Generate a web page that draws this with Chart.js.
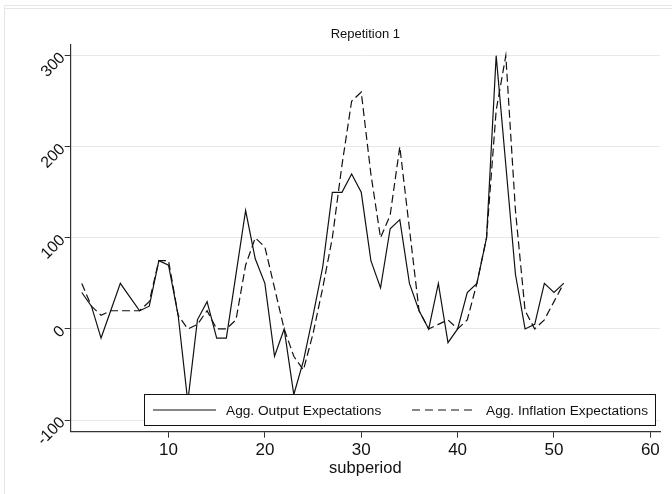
<!DOCTYPE html>
<html>
<head>
<meta charset="utf-8">
<script src="https://cdn.jsdelivr.net/npm/chart.js@4"></script>
<style>
html,body{margin:0;padding:0;background:#fff;}
#wrap{width:672px;height:494px;position:relative;}
</style>
</head>
<body>
<div id="wrap"><canvas id="c" width="672" height="494"></canvas></div>
<script>
const subperiod = [1,2,3,4,5,6,7,8,9,10,11,12,13,14,15,16,17,18,19,20,21,22,23,24,25,26,27,28,29,30,31,32,33,34,35,36,37,38,39,40,41,42,43,44,45,46,47,48,49,50,51];
const outputExp = [40,25,-10,20,50,35,20,25,75,70,15,-80,10,30,-10,-10,60,130,77,50,-30,0,-72,-35,15,68,150,150,170,150,75,45,110,120,50,20,0,50,-15,0,40,50,100,300,180,60,0,5,50,40,50];
const inflationExp = [50,25,15,20,20,20,20,30,75,75,15,0,5,20,0,0,10,70,100,90,45,0,-30,-45,-5,45,100,180,250,260,170,100,125,200,110,20,0,5,10,0,10,50,100,240,300,130,20,0,10,30,50];
const xTicks = [10,20,30,40,50,60];
const yTicks = [-100,0,100,200,300];
const titleText = 'Repetition 1';
const xTitle = 'subperiod';
const seriesNames = ['Agg. Output Expectations','Agg. Inflation Expectations'];

const FONT = "'Liberation Sans', Arial, sans-serif";

const framePlugin = {
  id:'frame',
  beforeDraw(chart){
    const ctx = chart.ctx;
    ctx.save();
    ctx.fillStyle='#fff';
    ctx.fillRect(0,0,chart.width,chart.height);
    ctx.strokeStyle='#e6e6e6';
    ctx.lineWidth=1;
    ctx.beginPath();
    ctx.moveTo(4.5,chart.height); ctx.lineTo(4.5,5.5); ctx.lineTo(chart.width,5.5);
    ctx.moveTo(4.5,8.5); ctx.lineTo(chart.width,8.5);
    ctx.stroke();
    ctx.restore();
  }
};

const legendPlugin = {
  id:'insideLegend',
  afterDatasetsDraw(chart){
    const ctx = chart.ctx;
    const x0=144.5, y0=394.5, w=511, h=31;
    ctx.save();
    ctx.fillStyle='#fff';
    ctx.fillRect(x0,y0,w,h);
    ctx.strokeStyle='#111';
    ctx.lineWidth=1;
    ctx.strokeRect(x0,y0,w,h);
    const cy = y0 + h/2;
    const items = [
      {x1:153,x2:216,tx:226,dash:[]},
      {x1:412,x2:477,tx:486,dash:[8,5]}
    ];
    ctx.font = "13.7px " + FONT;
    ctx.textBaseline='middle';
    ctx.textAlign='left';
    chart.data.datasets.forEach((ds,i)=>{
      const it = items[i];
      ctx.setLineDash(it.dash);
      ctx.lineWidth=1.2;
      ctx.strokeStyle='#111';
      ctx.beginPath(); ctx.moveTo(it.x1,cy); ctx.lineTo(it.x2,cy); ctx.stroke();
      ctx.setLineDash([]);
      ctx.fillStyle='#111';
      ctx.fillText(ds.label, it.tx, cy+1);
    });
    ctx.restore();
  }
};

new Chart(document.getElementById('c'), {
  type:'line',
  data:{
    datasets:[
      {label:seriesNames[0], data:subperiod.map((s,i)=>({x:s,y:outputExp[i]})), borderColor:'#111', borderWidth:1.2, pointRadius:0, tension:0, fill:false},
      {label:seriesNames[1], data:subperiod.map((s,i)=>({x:s,y:inflationExp[i]})), borderColor:'#111', borderWidth:1.2, borderDash:[8,4], pointRadius:0, tension:0, fill:false}
    ]
  },
  plugins:[framePlugin, legendPlugin],
  options:{
    responsive:false,
    animation:false,
    devicePixelRatio:1,
    layout:{padding:{left:0,right:12,top:0,bottom:0}, autoPadding:false},
    plugins:{
      legend:{display:false},
      tooltip:{enabled:false},
      title:{display:true, fullSize:false, text:titleText, color:'#111', font:{family:FONT, size:13, weight:'normal'}, padding:{top:27,bottom:2.4}}
    },
    scales:{
      x:{
        type:'linear', min:-0.15, max:61,
        afterBuildTicks(s){ s.ticks = xTicks.map(v=>({value:v})); },
        afterFit(s){ s.height = 62.3; },
        grid:{drawOnChartArea:false, drawTicks:true, tickLength:6, tickColor:'#333', tickWidth:1},
        border:{display:true, color:'#333', width:1.2},
        ticks:{color:'#111', font:{family:FONT, size:17}, padding:2, autoSkip:false, maxRotation:0, minRotation:0},
        title:{display:true, text:xTitle, color:'#111', font:{family:FONT, size:16.5}, padding:{top:0,bottom:16}}
      },
      y:{
        type:'linear', min:-112.8, max:311.7,
        afterBuildTicks(s){ s.ticks = yTicks.map(v=>({value:v})); },
        afterFit(s){ s.width = 70.7; },
        grid:{color:'#e8e8e8', lineWidth:1, drawTicks:true, tickLength:6, tickColor:'#333'},
        border:{display:true, color:'#333', width:1.2},
        ticks:{color:'#111', font:{family:FONT, size:16}, padding:2, minRotation:45, maxRotation:45, autoSkip:false}
      }
    }
  }
});
</script>
</body>
</html>
